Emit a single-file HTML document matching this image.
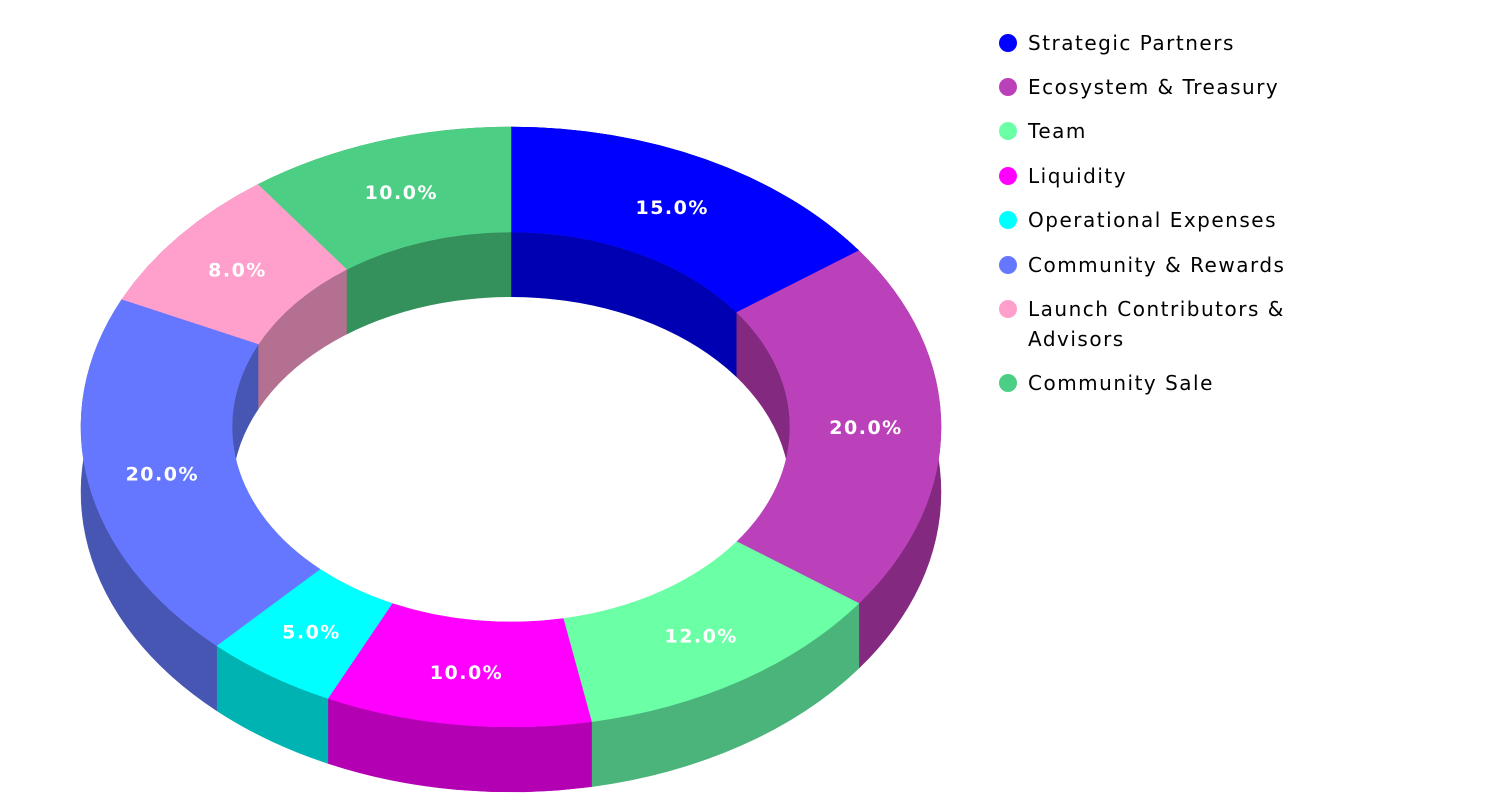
<!DOCTYPE html>
<html><head><meta charset="utf-8"><style>
html,body{margin:0;padding:0;background:#fff;width:1500px;height:800px;overflow:hidden}
svg{display:block}
</style></head><body>
<svg id="s" width="1500" height="800" xmlns="http://www.w3.org/2000/svg"></svg>
<script>
const cx=511,cy=427,R=430,RY=300,r=279,ry=195,D=65;
const data=[
["Strategic Partners",15,"#0000ff","#0000b3"],
["Ecosystem & Treasury",20,"#bb41bb","#83297f"],
["Team",12,"#6bffa6","#4bb47a"],
["Liquidity",10,"#ff00ff","#b300b3"],
["Operational Expenses",5,"#00ffff","#00b3b3"],
["Community & Rewards",20,"#6677ff","#4756b3"],
["Launch Contributors & Advisors",8,"#ff9fcb","#b37090"],
["Community Sale",10,"#4ccf84","#35915c"]];
function P(a,b,t,dy){t=t*Math.PI/180;return (cx+a*Math.sin(t)).toFixed(2)+","+(cy-b*Math.cos(t)+dy).toFixed(2);}
function arc(a,b,t1,t2,dy,sw){const la=Math.abs(t2-t1)>180?1:0;return `A${a},${b} 0 ${la},${sw} ${P(a,b,t2,dy)}`;}
let sides="",inner="",tops="",labels="";
let t=0;
data.forEach(d=>{
 const t1=t,t2=t+d[1]*3.6;t=t2;
 sides+=`<path d="M${P(R,RY,t1,0)} ${arc(R,RY,t1,t2,0,1)} L${P(R,RY,t2,D)} ${arc(R,RY,t2,t1,D,0)} Z" fill="${d[3]}" stroke="${d[3]}" stroke-width="0.5"/>`;
 inner+=`<path d="M${P(r,ry,t1,0)} ${arc(r,ry,t1,t2,0,1)} L${P(r,ry,t2,D)} ${arc(r,ry,t2,t1,D,0)} Z" fill="${d[3]}" stroke="${d[3]}" stroke-width="0.5"/>`;
 tops+=`<path d="M${P(R,RY,t1,0)} ${arc(R,RY,t1,t2,0,1)} L${P(r,ry,t2,0)} ${arc(r,ry,t2,t1,0,0)} Z" fill="${d[2]}" stroke="${d[2]}" stroke-width="0.5"/>`;
 const m=(t1+t2)/2*Math.PI/180;
 const x=cx+355*Math.sin(m),y=cy-247*Math.cos(m);
 labels+=`<text x="${x.toFixed(1)}" y="${(y+7).toFixed(1)}" text-anchor="middle" letter-spacing="1.5" font-family="DejaVu Sans, Liberation Sans, sans-serif" font-weight="bold" font-size="19" fill="#fff">${d[1].toFixed(1)}%</text>`;
});
let defs=`<defs><clipPath id="h"><ellipse cx="${cx}" cy="${cy}" rx="${r}" ry="${ry}"/></clipPath></defs>`;
let legend="";
const ys=[43,87,131,176,220,265,309,383];
const F=`font-family="DejaVu Sans, Liberation Sans, sans-serif" font-size="20" letter-spacing="1.5" fill="#000"`;
data.forEach((d,i)=>{
 legend+=`<circle cx="1008" cy="${ys[i]}" r="9" fill="${d[2]}"/>`;
 if(i==6){
  legend+=`<text x="1028" y="${ys[i]+7}" ${F}>Launch Contributors &amp;</text><text x="1028" y="${ys[i]+37}" ${F}>Advisors</text>`;
 } else legend+=`<text x="1028" y="${ys[i]+7}" ${F}>${d[0].replace('&','&amp;')}</text>`;
});
document.getElementById('s').innerHTML=defs+sides+`<g clip-path="url(#h)">${inner}<ellipse cx="${cx}" cy="${cy+D}" rx="${r}" ry="${ry}" fill="#fff"/></g>`+tops+labels+legend;
</script>
</body></html>
